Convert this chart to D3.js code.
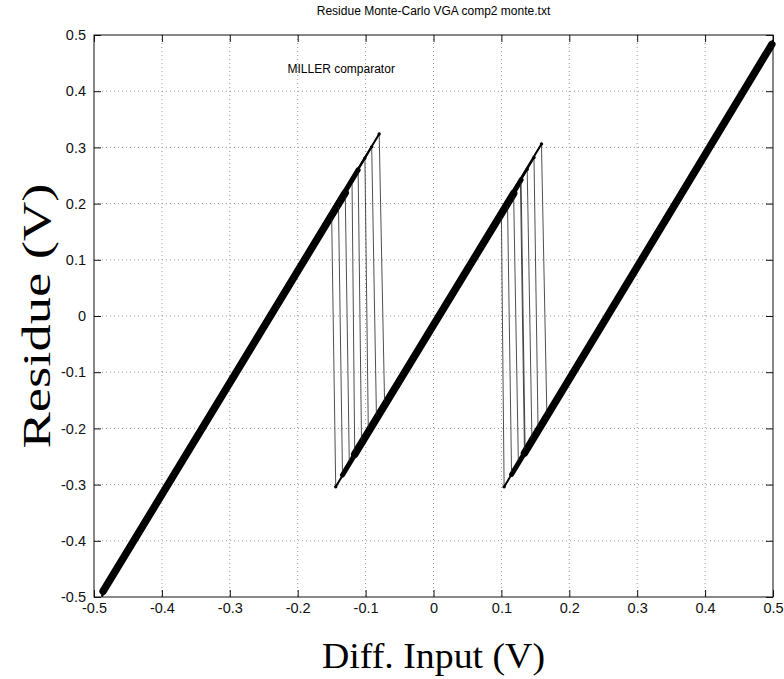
<!DOCTYPE html>
<html lang="en">
<head>
  <meta charset="UTF-8">
  <title>Residue Monte-Carlo VGA comp2 monte.txt</title>
  <script src="https://d3js.org/d3.v7.min.js"></script>
  <style>
    body {
      margin: 0;
      background: #fff;
    }
    svg {
      display: block;
      font-family: "Liberation Sans", Arial, sans-serif;
    }
    .grid line {
      stroke: #999;
      stroke-dasharray: 1,3;
      stroke-width: 1;
    }
    .axis text {
      font-size: 14.5px;
      fill: #111;
    }
    .axis line {
      stroke: #111;
    }
  </style>
</head>
<body>
  <div id="chart"></div>
  <script>
    // ticks
    const xTicks = [-0.5, -0.4, -0.3, -0.2, -0.1, 0, 0.1, 0.2, 0.3, 0.4, 0.5];
    const xTickLabels = ["-0.5", "-0.4", "-0.3", "-0.2", "-0.1", "0", "0.1", "0.2", "0.3", "0.4", "0.5"];
    const yTicks = [-0.5, -0.4, -0.3, -0.2, -0.1, 0, 0.1, 0.2, 0.3, 0.4, 0.5];
    const yTickLabels = ["-0.5", "-0.4", "-0.3", "-0.2", "-0.1", "0", "0.1", "0.2", "0.3", "0.4", "0.5"];

    // one entry per Monte-Carlo run (vertices of each residue curve)
    const startX    = [-0.487, -0.486, -0.488, -0.486, -0.487, -0.485, -0.488, -0.486];
    const startY    = [-0.494, -0.488, -0.498, -0.484, -0.491, -0.481, -0.496, -0.486];
    const leftTopX  = [-0.150, -0.140, -0.130, -0.120, -0.111, -0.101, -0.091, -0.080];
    const leftTopY  = [0.179, 0.199, 0.219, 0.240, 0.260, 0.281, 0.301, 0.324];
    const leftBotX  = [-0.144, -0.134, -0.124, -0.116, -0.106, -0.096, -0.084, -0.072];
    const leftBotY  = [-0.304, -0.283, -0.263, -0.246, -0.225, -0.205, -0.180, -0.157];
    const rightTopX = [0.118, 0.100, 0.138, 0.128, 0.159, 0.109, 0.129, 0.148];
    const rightTopY = [0.218, 0.180, 0.261, 0.241, 0.306, 0.199, 0.242, 0.282];
    const rightBotX = [0.125, 0.104, 0.145, 0.134, 0.167, 0.115, 0.135, 0.154];
    const rightBotY = [-0.262, -0.304, -0.222, -0.244, -0.178, -0.282, -0.243, -0.203];
    const endX      = [0.498, 0.499, 0.497, 0.500, 0.498, 0.499, 0.497, 0.498];
    const endY      = [0.481, 0.488, 0.478, 0.490, 0.484, 0.486, 0.476, 0.483];

    const W = 784, H = 679;
    const margin = { top: 35, right: 11, bottom: 82, left: 94 },
          width = W - margin.left - margin.right,
          height = H - margin.top - margin.bottom;

    const svg = d3.select("#chart")
      .append("svg")
      .attr("width", W)
      .attr("height", H);

    const g = svg.append("g")
      .attr("transform", `translate(${margin.left},${margin.top})`);

    const x = d3.scaleLinear().domain([-0.5, 0.5]).range([0, width]);
    const y = d3.scaleLinear().domain([-0.5, 0.5]).range([height, 0]);

    // dotted grid
    const grid = g.append("g").attr("class", "grid");
    grid.selectAll("line.gx")
      .data(xTicks.slice(1, -1))
      .enter().append("line")
      .attr("x1", d => x(d)).attr("x2", d => x(d))
      .attr("y1", 0).attr("y2", height);
    grid.selectAll("line.gy")
      .data(yTicks.slice(1, -1))
      .enter().append("line")
      .attr("class", "gy")
      .attr("y1", d => y(d)).attr("y2", d => y(d))
      .attr("x1", 0).attr("x2", width);

    // axes, ticks pointing inward like matlab
    const tk = 7;
    g.append("g")
      .attr("class", "axis")
      .attr("transform", `translate(0,${height})`)
      .call(d3.axisBottom(x).tickValues(xTicks).tickFormat((d, i) => xTickLabels[i])
        .tickSizeInner(-tk).tickSizeOuter(0).tickPadding(6))
      .call(a => a.select(".domain").remove());
    g.append("g")
      .attr("class", "axis")
      .call(d3.axisLeft(y).tickValues(yTicks).tickFormat((d, i) => yTickLabels[i])
        .tickSizeInner(-tk).tickSizeOuter(0).tickPadding(8))
      .call(a => a.select(".domain").remove());
    g.append("g")
      .attr("class", "axis")
      .call(d3.axisTop(x).tickValues(xTicks).tickFormat("").tickSizeInner(-tk).tickSizeOuter(0))
      .call(a => a.select(".domain").remove());
    g.append("g")
      .attr("class", "axis")
      .attr("transform", `translate(${width},0)`)
      .call(d3.axisRight(y).tickValues(yTicks).tickFormat("").tickSizeInner(-tk).tickSizeOuter(0))
      .call(a => a.select(".domain").remove());

    g.append("rect")
      .attr("width", width)
      .attr("height", height)
      .attr("fill", "none")
      .attr("stroke", "#111")
      .attr("stroke-width", 1);

    // runs
    const runs = startX.map((_, i) => ({
      pts: [
        [startX[i], startY[i]],
        [leftTopX[i], leftTopY[i]],
        [leftBotX[i], leftBotY[i]],
        [rightTopX[i], rightTopY[i]],
        [rightBotX[i], rightBotY[i]],
        [endX[i], endY[i]]
      ]
    }));

    const line = d3.line().x(d => x(d[0])).y(d => y(d[1]));
    const plot = g.append("g");

    // dense core of the bands where most runs overlap (tapers as runs drop out)
    const byX = arr => arr.slice().sort((a, b) => a[0] - b[0]);
    const tops1 = byX(runs.map(r => r.pts[1]));
    const bots1 = byX(runs.map(r => r.pts[2]));
    const tops2 = byX(runs.map(r => r.pts[3]));
    const bots2 = byX(runs.map(r => r.pts[4]));
    const mean = k => [d3.mean(runs, r => r.pts[k][0]), d3.mean(runs, r => r.pts[k][1])];
    const cores = [
      { p: [mean(0), tops1[4]], w: 5 },
      { p: [bots1[1], tops2[4]], w: 5 },
      { p: [bots2[1], mean(5)], w: 5 },
      { p: [mean(0), tops1[2]], w: 7.5 },
      { p: [bots1[3], tops2[2]], w: 7.5 },
      { p: [bots2[3], mean(5)], w: 7.5 }
    ];
    plot.selectAll("path.core")
      .data(cores)
      .enter().append("path")
      .attr("class", "core")
      .attr("d", d => line(d.p))
      .attr("fill", "none")
      .attr("stroke", "#000")
      .attr("stroke-width", d => d.w)
      .attr("stroke-linecap", "round");

    // thin full curve of every run (includes the jumps)
    plot.selectAll("path.run")
      .data(runs)
      .enter().append("path")
      .attr("class", "run")
      .attr("d", d => line(d.pts))
      .attr("fill", "none")
      .attr("stroke", "#222")
      .attr("stroke-width", 0.8);

    // marker-filled branches of each run
    const branches = [];
    runs.forEach(r => {
      branches.push([r.pts[0], r.pts[1]]);
      branches.push([r.pts[2], r.pts[3]]);
      branches.push([r.pts[4], r.pts[5]]);
    });
    plot.selectAll("path.branch")
      .data(branches)
      .enter().append("path")
      .attr("class", "branch")
      .attr("d", d => line(d))
      .attr("fill", "none")
      .attr("stroke", "#000")
      .attr("stroke-width", 2)
      .attr("stroke-linecap", "round");

    // markers at the jump ends
    const marks = [];
    runs.forEach(r => r.pts.slice(1, 5).forEach(p => marks.push(p)));
    plot.selectAll("circle.mk")
      .data(marks)
      .enter().append("circle")
      .attr("class", "mk")
      .attr("cx", d => x(d[0]))
      .attr("cy", d => y(d[1]))
      .attr("r", 1.7)
      .attr("fill", "#000");

    // texts
    svg.append("text")
      .attr("x", margin.left + width / 2)
      .attr("y", 15)
      .attr("text-anchor", "middle")
      .style("font-size", "12px")
      .text("Residue Monte-Carlo VGA comp2 monte.txt");

    g.append("text")
      .attr("x", x(-0.215))
      .attr("y", y(0.4) - 18)
      .style("font-size", "12px")
      .text("MILLER comparator");

    svg.append("text")
      .attr("x", margin.left + width / 2)
      .attr("y", 668)
      .attr("text-anchor", "middle")
      .attr("textLength", 223)
      .attr("lengthAdjust", "spacingAndGlyphs")
      .style("font-family", "'Liberation Serif', 'Times New Roman', serif")
      .style("font-size", "36px")
      .text("Diff. Input (V)");

    svg.append("text")
      .attr("transform", `translate(50,${margin.top + height / 2}) rotate(-90)`)
      .attr("text-anchor", "middle")
      .attr("textLength", 265)
      .attr("lengthAdjust", "spacingAndGlyphs")
      .style("font-family", "'Liberation Serif', 'Times New Roman', serif")
      .style("font-size", "40px")
      .text("Residue (V)");
  </script>
</body>
</html>
